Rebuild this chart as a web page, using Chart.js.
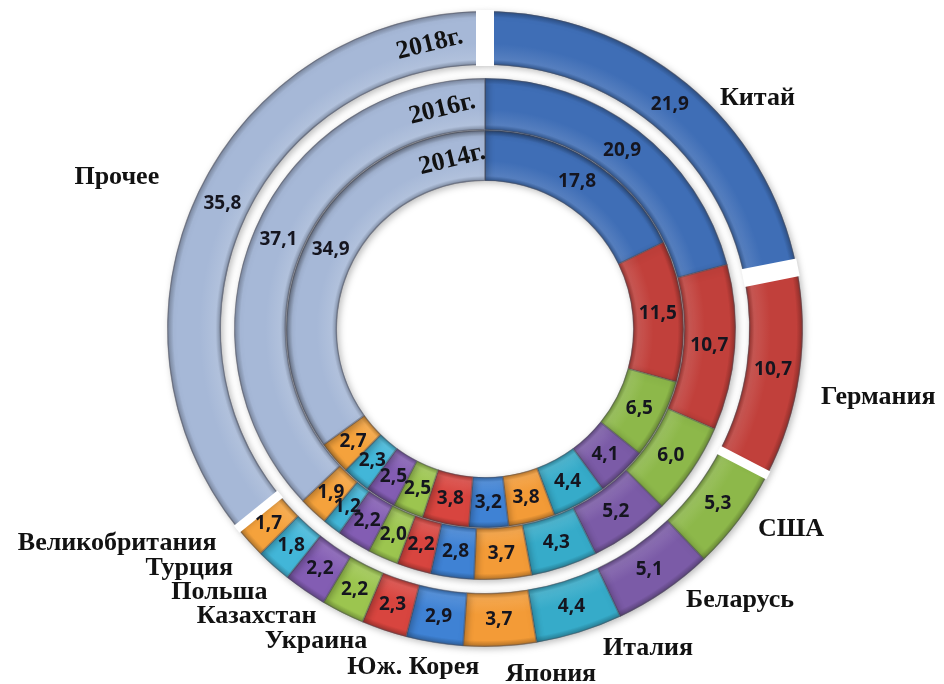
<!DOCTYPE html>
<html>
<head>
<meta charset="utf-8">
<script src="https://cdn.jsdelivr.net/npm/chart.js@4"></script>
<style>
  html, body { margin: 0; padding: 0; background: #fff; overflow: hidden; }
  canvas { display: block; }
</style>
</head>
<body>
<canvas id="chart" width="944" height="684"></canvas>
<script>
// shares of imports by country, % (rings: 2018 outer, 2016 middle, 2014 inner)
const countries = ['Китай', 'Германия', 'США', 'Беларусь', 'Италия', 'Япония', 'Юж. Корея',
  'Украина', 'Казахстан', 'Польша', 'Турция', 'Великобритания', 'Прочее'];
const yearTags = ['2018г.', '2016г.', '2014г.'];
const share2018 = [21.9, 10.7, 5.3, 5.1, 4.4, 3.7, 2.9, 2.3, 2.2, 2.2, 1.8, 1.7, 35.8];
const share2016 = [20.9, 10.7, 6.0, 5.2, 4.3, 3.7, 2.8, 2.2, 2.0, 2.2, 1.2, 1.9, 37.1];
const share2014 = [17.8, 11.5, 6.5, 4.1, 4.4, 3.8, 3.2, 3.8, 2.5, 2.5, 2.3, 2.7, 34.9];

const sliceColors = ['#3f6eb6', '#c1403b', '#8db84a', '#7b5ba7', '#36abc9', '#f39b37', '#3f82d4',
  '#d8453f', '#9cc54f', '#835db3', '#42b6d8', '#f5a23c', '#a6b8d7'];

// where the country names sit: turn from the slice middle (deg) and distance (x outer radius)
const nameTurn = [10.3, 1.7, -3.7, -8.9, -9.8, -8.1, 2.8, 9.9, 11.8, 10.7, 9.3, 11.7, -3.2];
const nameDist = [1.123, 1.255, 1.15, 1.17, 1.126, 1.104, 1.087, 1.116, 1.155, 1.176, 1.196, 1.339, 1.252];
// slices of the outer ring pulled apart from their neighbours
const exploded = [0, 1, 12];

function mix(hex, target, t) {
  const n = parseInt(hex.slice(1), 16);
  const r = (n >> 16) & 255, g = (n >> 8) & 255, b = n & 255;
  const m = v => Math.round(v + (target - v) * t);
  return `rgb(${m(r)},${m(g)},${m(b)})`;
}

// radial shading so each ring looks bevelled
function bevel(context) {
  const chart = context.chart;
  const base = sliceColors[context.dataIndex];
  const c = chart.getDatasetMeta(context.datasetIndex).controller;
  const area = chart.chartArea;
  if (!area || !c.outerRadius) return base;
  const cx = (area.left + area.right) / 2;
  const cy = (area.top + area.bottom) / 2;
  const g = chart.ctx.createRadialGradient(cx, cy, c.innerRadius, cx, cy, c.outerRadius);
  g.addColorStop(0, mix(base, 0, 0.25));
  g.addColorStop(0.1, mix(base, 255, 0.12));
  g.addColorStop(0.4, base);
  g.addColorStop(0.88, base);
  g.addColorStop(1, mix(base, 0, 0.28));
  return g;
}

const shadowPlugin = {
  id: 'ringShadow',
  beforeDatasetDraw(chart) {
    const g = chart.ctx;
    g.save();
    g.shadowColor = 'rgba(0,0,0,0.28)';
    g.shadowBlur = 7;
    g.shadowOffsetX = 2;
    g.shadowOffsetY = 2;
  },
  afterDatasetDraw(chart) {
    chart.ctx.restore();
  }
};

const gapsPlugin = {
  id: 'gaps',
  afterDatasetDraw(chart, args) {
    if (args.index !== 0) return;
    const arcs = args.meta.data;
    const g = chart.ctx;
    const cuts = new Map();
    exploded.forEach(i => {
      [arcs[i].startAngle, arcs[i].endAngle].forEach(a => {
        const k = Math.round(((a % (2 * Math.PI)) + 2 * Math.PI) % (2 * Math.PI) * 1000);
        cuts.set(k, { a: a, n: (cuts.has(k) ? cuts.get(k).n : 0) + 1 });
      });
    });
    const a0 = arcs[0];
    const r0 = a0.innerRadius - 1, r1 = a0.outerRadius + 1;
    g.save();
    g.strokeStyle = '#fff';
    cuts.forEach(({ a, n }) => {
      g.lineWidth = n > 1 ? 18 : 9;
      g.beginPath();
      g.moveTo(a0.x + Math.cos(a) * r0, a0.y + Math.sin(a) * r0);
      g.lineTo(a0.x + Math.cos(a) * r1, a0.y + Math.sin(a) * r1);
      g.stroke();
    });
    g.restore();
  }
};

const labelsPlugin = {
  id: 'ringLabels',
  afterDatasetsDraw(chart) {
    const g = chart.ctx;
    g.save();
    g.textAlign = 'center';
    g.textBaseline = 'middle';
    chart.data.datasets.forEach((ds, di) => {
      if (!ds.tag) return;
      const arcs = chart.getDatasetMeta(di).data;
      g.fillStyle = '#15151f';
      g.font = 'bold 19px "Open Sans"';
      arcs.forEach((arc, i) => {
        const p = arc.tooltipPosition();
        g.fillText(ds.data[i].toFixed(1).replace('.', ','), p.x, p.y);
      });
      // year tag at the top of the "other" slice
      const a0 = arcs[0];
      const r = (a0.innerRadius + a0.outerRadius) / 2;
      const a = -Math.PI / 2 - 11 * Math.PI / 180;
      g.save();
      g.translate(a0.x + Math.cos(a) * r, a0.y + Math.sin(a) * r);
      g.rotate(a + Math.PI / 2 - 0.05);
      g.font = 'bold 26px "Liberation Serif"';
      g.fillStyle = '#111';
      g.fillText(ds.tag, 0, 1);
      g.restore();
    });
    // country names around the outer ring
    const outer = chart.getDatasetMeta(0).data;
    g.font = 'bold 26px "Liberation Serif"';
    g.fillStyle = '#121212';
    outer.forEach((arc, i) => {
      const mid = (arc.startAngle + arc.endAngle) / 2 + nameTurn[i] * Math.PI / 180;
      const r = arc.outerRadius * nameDist[i];
      g.fillText(countries[i], arc.x + Math.cos(mid) * r, arc.y + Math.sin(mid) * r);
    });
    g.restore();
  }
};

function ring(tag, data, weight) {
  return {
    tag: tag,
    data: data,
    weight: weight,
    backgroundColor: bevel,
    borderColor: 'rgba(80,80,90,0.45)',
    borderWidth: 1,
    borderAlign: 'inner'
  };
}

new Chart(document.getElementById('chart'), {
  type: 'doughnut',
  data: {
    labels: countries,
    datasets: [
      ring(yearTags[0], share2018, 54),
      { data: share2018, weight: 13, backgroundColor: 'rgba(0,0,0,0)', borderWidth: 0 },
      ring(yearTags[1], share2016, 52),
      ring(yearTags[2], share2014, 51)
    ]
  },
  options: {
    responsive: false,
    animation: false,
    events: [],
    cutout: '46.54%',
    layout: { padding: { left: 167, top: 11, right: 141, bottom: 37 } },
    plugins: {
      legend: { display: false },
      tooltip: { enabled: false }
    }
  },
  plugins: [shadowPlugin, gapsPlugin, labelsPlugin]
});
</script>
</body>
</html>
